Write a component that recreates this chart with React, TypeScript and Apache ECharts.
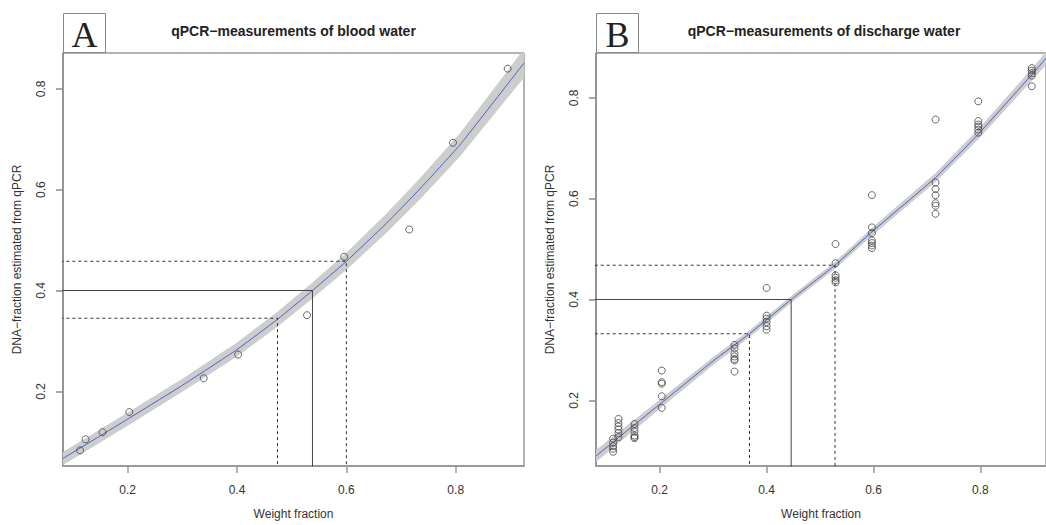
import React, { useEffect, useRef } from "react";
import * as echarts from "echarts";

// ---------- Panel A: blood water ----------
const aWeights = [0.113, 0.123, 0.154, 0.203, 0.339, 0.402, 0.528, 0.596, 0.715, 0.795, 0.895];
const aMeasured = [0.083, 0.105, 0.119, 0.159, 0.226, 0.273, 0.351, 0.467, 0.521, 0.693, 0.84];

const aCurveX = [0.0817, 0.2, 0.3, 0.4, 0.474, 0.538, 0.6, 0.673, 0.734, 0.807, 0.8946, 0.9249];
const aCurveY = [0.067, 0.145, 0.212, 0.283, 0.343, 0.4, 0.458, 0.533, 0.601, 0.688, 0.809, 0.851];
const aBandLow = [0.054, 0.132, 0.199, 0.269, 0.328, 0.384, 0.441, 0.514, 0.58, 0.665, 0.782, 0.822];
const aBandHigh = [0.08, 0.158, 0.225, 0.297, 0.358, 0.416, 0.475, 0.552, 0.622, 0.711, 0.836, 0.88];

const aTarget = 0.4;
const aEstimate = 0.538;
const aLowCI = [0.474, 0.345];
const aHighCI = [0.6, 0.458];

// ---------- Panel B: discharge water ----------
const bWeights = [0.113, 0.123, 0.153, 0.204, 0.34, 0.4, 0.529, 0.597, 0.716, 0.796, 0.896];
const bReplicates = [
  [0.124, 0.116, 0.109, 0.104, 0.098],
  [0.163, 0.155, 0.148, 0.142, 0.135, 0.127],
  [0.153, 0.145, 0.138, 0.13, 0.127, 0.125],
  [0.259, 0.236, 0.233, 0.208, 0.185],
  [0.31, 0.303, 0.293, 0.287, 0.282, 0.279, 0.257],
  [0.423, 0.368, 0.362, 0.355, 0.347, 0.34],
  [0.51, 0.472, 0.448, 0.443, 0.438, 0.434],
  [0.607, 0.543, 0.532, 0.517, 0.512, 0.507, 0.502],
  [0.757, 0.632, 0.619, 0.607, 0.591, 0.586, 0.57],
  [0.793, 0.754, 0.747, 0.743, 0.737, 0.731],
  [0.859, 0.854, 0.849, 0.844, 0.823],
];

const bCurveX = [0.081, 0.2, 0.3, 0.368, 0.446, 0.528, 0.6, 0.716, 0.796, 0.896, 0.923];
const bCurveY = [0.0895, 0.192, 0.278, 0.332, 0.4, 0.468, 0.537, 0.642, 0.728, 0.846, 0.879];
const bBandLow = [0.0775, 0.183, 0.27, 0.325, 0.393, 0.461, 0.529, 0.633, 0.718, 0.834, 0.866];
const bBandHigh = [0.1015, 0.201, 0.286, 0.339, 0.407, 0.475, 0.545, 0.651, 0.738, 0.858, 0.892];

const bTarget = 0.4;
const bEstimate = 0.446;
const bLowCI = [0.368, 0.332];
const bHighCI = [0.528, 0.468];

const tickValues = [0.2, 0.4, 0.6, 0.8];
const titleA = "qPCR\u2212measurements of blood water";
const titleB = "qPCR\u2212measurements of discharge water";
const xName = "Weight fraction";
const yName = "DNA\u2212fraction estimated from qPCR";

const FONT = "Liberation Sans";

function xAxisCfg(gridIndex: number, min: number, max: number) {
  return {
    gridIndex,
    type: "value",
    min,
    max,
    name: xName,
    nameLocation: "middle",
    nameGap: 42,
    nameTextStyle: { fontFamily: FONT, fontSize: 12, color: "#333" },
    axisLine: { show: true, onZero: false, lineStyle: { color: "#9a9a9a", width: 2 } },
    axisTick: { show: true, length: 7, customValues: tickValues, lineStyle: { color: "#9a9a9a", width: 1.5 } },
    axisLabel: {
      customValues: tickValues,
      formatter: (v: number) => v.toFixed(1),
      margin: 18,
      fontFamily: FONT,
      fontSize: 12,
      color: "#333",
    },
    splitLine: { show: false },
  };
}

function yAxisCfg(gridIndex: number, min: number, max: number) {
  return {
    gridIndex,
    type: "value",
    min,
    max,
    name: yName,
    nameLocation: "middle",
    nameRotate: 90,
    nameGap: 40,
    nameTextStyle: { fontFamily: FONT, fontSize: 12, color: "#333" },
    axisLine: { show: true, onZero: false, lineStyle: { color: "#8a8a8a", width: 1.5 } },
    axisTick: { show: true, length: 7, customValues: tickValues, lineStyle: { color: "#8a8a8a", width: 1.5 } },
    axisLabel: {
      customValues: tickValues,
      formatter: (v: number) => v.toFixed(1),
      rotate: 90,
      margin: 16,
      fontFamily: FONT,
      fontSize: 12,
      color: "#333",
    },
    splitLine: { show: false },
  };
}

function bandSeries(idx: number, xs: number[], low: number[], high: number[]) {
  return {
    type: "custom",
    xAxisIndex: idx,
    yAxisIndex: idx,
    silent: true,
    data: [[xs[0], low[0]]],
    z: 1,
    renderItem: (params: any, api: any) => {
      const pts: number[][] = [];
      for (let i = 0; i < xs.length; i++) pts.push(api.coord([xs[i], high[i]]));
      for (let i = xs.length - 1; i >= 0; i--) pts.push(api.coord([xs[i], low[i]]));
      const cs = params.coordSys;
      return {
        type: "polygon",
        shape: { points: pts },
        style: { fill: "#cdcdcd", stroke: "none" },
        clipPath: { type: "rect", shape: { x: cs.x, y: cs.y, width: cs.width, height: cs.height } },
      };
    },
  };
}

function curveSeries(idx: number, xs: number[], ys: number[]) {
  return {
    type: "line",
    xAxisIndex: idx,
    yAxisIndex: idx,
    smooth: 0.15,
    symbol: "none",
    silent: true,
    lineStyle: { color: "#4a62c6", width: 1 },
    data: xs.map((x, i) => [x, ys[i]]),
    z: 2,
  };
}

function guideSeries(idx: number, wx: number, dy: number, dashed: boolean) {
  return {
    type: "line",
    xAxisIndex: idx,
    yAxisIndex: idx,
    symbol: "none",
    silent: true,
    clip: true,
    lineStyle: { color: dashed ? "#333" : "#444", width: 1, type: dashed ? [3, 3] : "solid" },
    data: [
      [0, dy],
      [wx, dy],
      [wx, 0],
    ],
    z: 3,
  };
}

function pointSeries(idx: number, data: number[][]) {
  return {
    type: "scatter",
    xAxisIndex: idx,
    yAxisIndex: idx,
    symbol: "circle",
    symbolSize: 7,
    silent: true,
    itemStyle: { color: "rgba(0,0,0,0)", borderColor: "#444", borderWidth: 1 },
    data,
    z: 4,
  };
}

function letterBox(x: number, letter: string) {
  return [
    {
      type: "rect",
      shape: { x: x + 0.5, y: 13.5, width: 42, height: 39 },
      style: { fill: "#fff", stroke: "#888", lineWidth: 1 },
      z: 10,
    },
    {
      type: "text",
      x: x + 21.5,
      y: 34.5,
      style: {
        text: letter,
        font: 'normal 36px "Liberation Serif"',
        fill: "#222",
        textAlign: "center",
        textVerticalAlign: "middle",
      },
      z: 11,
    },
  ];
}

function titleText(x: number, text: string) {
  return {
    type: "text",
    x,
    y: 31,
    style: {
      text,
      font: 'bold 14px "Liberation Sans"',
      fill: "#222",
      textAlign: "center",
      textVerticalAlign: "middle",
    },
    z: 10,
  };
}

export default function App() {
  const ref = useRef<HTMLDivElement>(null);

  useEffect(() => {
    if (!ref.current) return;
    const chart = echarts.init(ref.current, null, { renderer: "svg" });

    const aPoints = aWeights.map((w, i) => [w, aMeasured[i]]);
    const bPoints: number[][] = [];
    bWeights.forEach((w, i) => bReplicates[i].forEach((v) => bPoints.push([w, v])));

    chart.setOption({
      animation: false,
      backgroundColor: "#fff",
      grid: [
        { left: 63, top: 53, width: 461, height: 415.5, show: true, borderColor: "#666", borderWidth: 1, backgroundColor: "transparent" },
        { left: 596, top: 53, width: 457, height: 415.5, show: true, borderColor: "#666", borderWidth: 1, backgroundColor: "transparent" },
      ],
      xAxis: [xAxisCfg(0, 0.0817, 0.9249), xAxisCfg(1, 0.081, 0.9226)],
      yAxis: [yAxisCfg(0, 0.052, 0.871), yAxisCfg(1, 0.0697, 0.889)],
      graphic: [
        ...letterBox(63, "A"),
        ...letterBox(596, "B"),
        titleText(293.5, titleA),
        titleText(824, titleB),
      ],
      series: [
        bandSeries(0, aCurveX, aBandLow, aBandHigh),
        curveSeries(0, aCurveX, aCurveY),
        guideSeries(0, aEstimate, aTarget, false),
        guideSeries(0, aLowCI[0], aLowCI[1], true),
        guideSeries(0, aHighCI[0], aHighCI[1], true),
        pointSeries(0, aPoints),
        bandSeries(1, bCurveX, bBandLow, bBandHigh),
        curveSeries(1, bCurveX, bCurveY),
        guideSeries(1, bEstimate, bTarget, false),
        guideSeries(1, bLowCI[0], bLowCI[1], true),
        guideSeries(1, bHighCI[0], bHighCI[1], true),
        pointSeries(1, bPoints),
      ],
    });

    return () => chart.dispose();
  }, []);

  return (
    <div
      ref={ref}
      style={{ position: "fixed", left: 0, top: 0, width: 1046, height: 525, overflow: "hidden" }}
    />
  );
}
